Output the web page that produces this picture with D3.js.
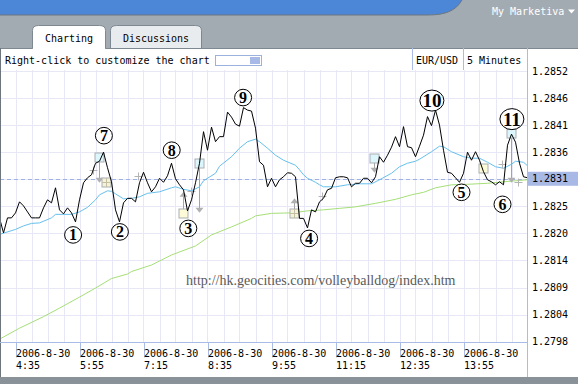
<!DOCTYPE html>
<html>
<head>
<meta charset="utf-8">
<script src="https://cdn.jsdelivr.net/npm/d3@7"></script>
<style>
html, body { margin: 0; padding: 0; background: #a3abb2; }
svg { display: block; }
text { font-family: "DejaVu Sans Mono", monospace; font-size: 10px; }
</style>
</head>
<body>
<svg id="chart" width="578" height="384"></svg>
<script>
// EUR/USD 5 minute closes, 2006-8-30, first bar 4:15
var startTime = new Date(2006, 7, 30, 4, 15);
var closes = [
  1.28229, 1.28199, 1.28229, 1.28229, 1.28239, 1.28261, 1.28253, 1.28241, 1.28229, 1.28229,
  1.28229, 1.28249, 1.28265, 1.28259, 1.28289, 1.28245, 1.28237, 1.28249, 1.28239, 1.28221,
  1.28265, 1.28299, 1.28309, 1.28315, 1.28338, 1.28342, 1.28360, 1.28329, 1.28301, 1.28245,
  1.28221, 1.28259, 1.28268, 1.28268, 1.28261, 1.28299, 1.28320, 1.28299, 1.28281, 1.28291,
  1.28308, 1.28300, 1.28313, 1.28338, 1.28307, 1.28295, 1.28285, 1.28243, 1.28265, 1.28299,
  1.28338, 1.28401, 1.28364, 1.28410, 1.28381, 1.28391, 1.28391, 1.28440, 1.28430, 1.28416,
  1.28412, 1.28449, 1.28444, 1.28442, 1.28408, 1.28341, 1.28334, 1.28291, 1.28308, 1.28291,
  1.28305, 1.28311, 1.28319, 1.28318, 1.28311, 1.28228, 1.28228, 1.28209, 1.28245, 1.28241,
  1.28261, 1.28268, 1.28285, 1.28288, 1.28309, 1.28311, 1.28311, 1.28309, 1.28291, 1.28298,
  1.28298, 1.28308, 1.28308, 1.28299, 1.28311, 1.28351, 1.28340, 1.28354, 1.28370, 1.28391,
  1.28371, 1.28411, 1.28371, 1.28369, 1.28351, 1.28372, 1.28394, 1.28431, 1.28413, 1.28444,
  1.28414, 1.28364, 1.28320, 1.28318, 1.28309, 1.28300, 1.28318, 1.28360, 1.28344, 1.28361,
  1.28344, 1.28321, 1.28305, 1.28301, 1.28295, 1.28301, 1.28295, 1.28374, 1.28396, 1.28380,
  1.28338, 1.28311, 1.28309
];

// fast moving average (blue), bar index / value
var fastIdx = [0, 4, 6, 8, 10, 13, 14, 18, 20, 22, 24, 25, 27, 28, 29, 31, 33, 35, 37, 40,
  43, 44, 46, 48, 50, 51, 54, 55, 58, 60, 62, 64, 65, 67, 69, 71, 74, 75, 76, 77,
  79, 80, 81, 84, 87, 90, 93, 95, 98, 100, 102, 104, 105, 108, 110, 111, 113, 116, 118, 120,
  122, 124, 126, 128, 129, 131, 132];
var fastVals = [1.28196, 1.28206, 1.28213, 1.28218, 1.28219, 1.28229, 1.28236, 1.28236, 1.28241, 1.28250,
  1.28265, 1.28275, 1.28283, 1.28282, 1.28277, 1.28267, 1.28268, 1.28271, 1.28278, 1.28281,
  1.28289, 1.28291, 1.28286, 1.28283, 1.28291, 1.28303, 1.28318, 1.28332, 1.28351, 1.28368,
  1.28381, 1.28386, 1.28381, 1.28368, 1.28354, 1.28344, 1.28334, 1.28325, 1.28315, 1.28308,
  1.28300, 1.28295, 1.28291, 1.28291, 1.28295, 1.28297, 1.28297, 1.28305, 1.28318, 1.28331,
  1.28338, 1.28342, 1.28346, 1.28361, 1.28372, 1.28371, 1.28361, 1.28351, 1.28348, 1.28348,
  1.28340, 1.28331, 1.28328, 1.28336, 1.28342, 1.28340, 1.28333];

// slow moving average (green)
var slowIdx = [0, 5, 11, 15, 20, 24, 28, 32, 33, 38, 43, 49, 53, 58, 63, 64, 68, 73, 77, 81,
  85, 89, 94, 99, 103, 106, 109, 113, 117, 122, 126, 129, 132];
var slowVals = [1.27987, 1.28009, 1.28032, 1.28049, 1.28071, 1.28089, 1.28108, 1.28117, 1.28122, 1.28135,
  1.28155, 1.28173, 1.28195, 1.28211, 1.28228, 1.28233, 1.28238, 1.28239, 1.28243, 1.28245,
  1.28248, 1.28251, 1.28258, 1.28266, 1.28275, 1.28280, 1.28289, 1.28295, 1.28296, 1.28298,
  1.28301, 1.28303, 1.28305];

var lastPrice = 1.28307;
var lastLabel = "1.2831";
var yTickLabels = ["1.2798", "1.2804", "1.2809", "1.2814", "1.2820", "1.2825",
  "1.2831", "1.2836", "1.2841", "1.2846", "1.2852"];
var yLow = 1.27982, yStep = 0.00054;
var xTickTimes = ["4:35", "5:55", "7:15", "8:35", "9:55", "11:15", "12:35", "13:55"];
var xTickDate = "2006-8-30";

// wave count labels: number, bar index, price
var waveNums = [1, 2, 3, 4, 5, 6, 7, 8, 9, 10, 11];
var waveIdx = [18.4, 30.1, 47.2, 77.4, 115.5, 125.75, 26.1, 43.05, 60.9, 108.1, 128.1];
var wavePrice = [1.28195, 1.28201, 1.28208, 1.28188, 1.28280, 1.28256, 1.28393, 1.28364, 1.28469, 1.28463, 1.28426];

// signal icons: bar index, box price, arrow tip price
var sellIdx = [24.75, 49.8, 93.6, 127.75];
var sellBox = [1.28350, 1.28338, 1.28349, 1.28398];
var sellTip = [1.28299, 1.28239, 1.28319, 1.28299];
var buyIdx = [45.75, 120.75];
var buyBox = [1.28239, 1.28329];
var buyTip = [1.28281, null];
var gridIdx = [26.6, 73.6];
var gridBox = [1.28300, 1.28239];
var gridTip = [null, 1.28268];
var crossIdx = [23.4, 34.6, 47.75, 80.6, 125.6, 129.6];
var crossPrice = [1.28325, 1.28312, 1.28283, 1.28272, 1.28337, 1.28300];

var site = "http://hk.geocities.com/volleyballdog/index.htm";

function barTime(i) { return new Date(startTime.getTime() + i * 5 * 60000); }

var svg = d3.select('#chart');
var W = 578, H = 384;
var plotL = 0, plotR = 527, plotT = 70, plotB = 342;

// window chrome
svg.append('rect').attr('width', W).attr('height', H).attr('fill', '#a3abb2');
svg.append('path')
  .attr('d', 'M0,0 H462 C456,10.5 446,15 428,15 H0 Z')
  .attr('fill', '#4c86d6');
svg.append('path')
  .attr('d', 'M0,15 H428 C446,15 456,10.5 462,0')
  .attr('fill', 'none').attr('stroke', '#6d7780').attr('stroke-width', 1);
svg.append('text').attr('x', 492).attr('y', 15).attr('fill', '#fff').text('My Marketiva');
svg.append('path').attr('d', 'M568,9.5 h7 l-3.5,4 z').attr('fill', '#fff');

function tab(x0, x1, fill, label) {
  svg.append('path')
    .attr('d', 'M' + x0 + ',48.5 V30.5 Q' + x0 + ',25.5 ' + (x0 + 6) + ',25.5 H' + (x1 - 6) +
      ' Q' + x1 + ',25.5 ' + x1 + ',30.5 V48.5')
    .attr('fill', fill).attr('stroke', '#7e8891');
  svg.append('text').attr('x', (x0 + x1) / 2).attr('y', 41.5).attr('text-anchor', 'middle')
    .attr('fill', '#000').text(label);
}
tab(110.5, 201.5, '#e8ecef', 'Discussions');

// panel
svg.append('rect').attr('x', 0).attr('y', 48).attr('width', W).attr('height', 329).attr('fill', '#fff');
svg.append('line').attr('x1', 0).attr('x2', W).attr('y1', 48.5).attr('y2', 48.5).attr('stroke', '#7e8891');
tab(32.5, 105.5, '#fff', 'Charting');
svg.append('rect').attr('x', 33).attr('y', 47).attr('width', 72).attr('height', 3).attr('fill', '#fff');
svg.append('rect').attr('x', 0).attr('y', 377).attr('width', W).attr('height', 7).attr('fill', '#8a9299');
svg.append('line').attr('x1', 0.5).attr('x2', 0.5).attr('y1', 48).attr('y2', 377).attr('stroke', '#6e767d');

// scales
var x = d3.scaleTime().domain([barTime(0), barTime(132)]).range([-0.5, 527.5]);
var y = d3.scaleLinear().domain([yLow, yLow + 10 * yStep]).range([341.7, 71]);
var yTicks = yTickLabels.map(function(d, i) { return yLow + i * yStep; });
var gridTimes = d3.range(0, 133, 4).map(barTime);
var xTicks = xTickTimes.map(function(t) {
  var p = t.split(':');
  return new Date(2006, 7, 30, +p[0], +p[1]);
});

svg.append('clipPath').attr('id', 'plot-clip')
  .append('rect').attr('x', plotL + 1).attr('y', plotT).attr('width', plotR - plotL - 1).attr('height', plotB - plotT);

var plot = svg.append('g').attr('clip-path', 'url(#plot-clip)');

// grid
plot.append('g').selectAll('line').data(gridTimes).enter().append('line')
  .attr('x1', d => Math.round(x(d)) + 0.5).attr('x2', d => Math.round(x(d)) + 0.5)
  .attr('y1', plotT).attr('y2', plotB)
  .attr('stroke', '#e7e7f5');
plot.append('g').selectAll('line').data(yTicks).enter().append('line')
  .attr('x1', plotL).attr('x2', plotR)
  .attr('y1', d => Math.round(y(d)) + 0.5).attr('y2', d => Math.round(y(d)) + 0.5)
  .attr('stroke', '#e7e7f5');

// watermark
plot.append('text').attr('x', 186).attr('y', 285)
  .style('font-family', '"Liberation Serif", serif').style('font-size', '14px')
  .attr('fill', '#5a5a5a').text(site);

// last price line
plot.append('line').attr('x1', plotL).attr('x2', plotR)
  .attr('y1', Math.round(y(lastPrice)) + 0.5).attr('y2', Math.round(y(lastPrice)) + 0.5)
  .attr('stroke', '#9db2e2').attr('stroke-dasharray', '4,3');

var maLine = d3.line().x(d => x(barTime(d[0]))).y(d => y(d[1]));
plot.append('path').datum(d3.zip(slowIdx, slowVals))
  .attr('d', maLine).attr('fill', 'none').attr('stroke', '#a6df78').attr('stroke-width', 1);
plot.append('path').datum(d3.zip(fastIdx, fastVals))
  .attr('d', maLine).attr('fill', 'none').attr('stroke', '#68bfec').attr('stroke-width', 1);

// signal icons
var iconStroke = '#a4a4a4';
function arrowHead(g, cx, tipY, dir) {
  g.append('path')
    .attr('d', 'M' + (cx - 4) + ',' + (tipY - 5 * dir) + ' H' + (cx + 4) + ' L' + cx + ',' + tipY + ' Z')
    .attr('fill', '#b0b0b0');
}
function box(g, cx, cy, fill, withGrid) {
  g.append('rect').attr('x', cx - 4.5).attr('y', cy - 4.5).attr('width', 9).attr('height', 9)
    .attr('fill', fill).attr('stroke', '#a9aeb2');
  if (withGrid) {
    g.append('path').attr('d', 'M' + (cx - 4.5) + ',' + cy + ' H' + (cx + 4.5) + ' M' + cx + ',' + (cy - 4.5) + ' V' + (cy + 4.5))
      .attr('stroke', '#c2bfa4');
  }
}
var icons = plot.append('g');
sellIdx.forEach(function(k, i) {
  var cx = Math.round(x(barTime(k))) + 0.5, cy = Math.round(y(sellBox[i])) + 0.5, ty = y(sellTip[i]);
  icons.append('line').attr('x1', cx).attr('x2', cx).attr('y1', cy + 4).attr('y2', ty - 4).attr('stroke', iconStroke);
  arrowHead(icons, cx, ty, 1);
  box(icons, cx, cy, '#dcf6fb', false);
});
buyIdx.forEach(function(k, i) {
  var cx = Math.round(x(barTime(k))) + 0.5, cy = Math.round(y(buyBox[i])) + 0.5;
  if (buyTip[i] !== null) {
    var ty = y(buyTip[i]);
    icons.append('line').attr('x1', cx).attr('x2', cx).attr('y1', cy - 4).attr('y2', ty + 4).attr('stroke', iconStroke);
    arrowHead(icons, cx, ty, -1);
  }
  box(icons, cx, cy, '#fdfad8', false);
});
gridIdx.forEach(function(k, i) {
  var cx = Math.round(x(barTime(k))) + 0.5, cy = Math.round(y(gridBox[i])) + 0.5;
  if (gridTip[i] !== null) {
    var ty = y(gridTip[i]);
    icons.append('line').attr('x1', cx).attr('x2', cx).attr('y1', cy - 4).attr('y2', ty + 4).attr('stroke', iconStroke);
    arrowHead(icons, cx, ty, -1);
  }
  box(icons, cx, cy, '#f6f2d8', true);
});
crossIdx.forEach(function(k, i) {
  var cx = Math.round(x(barTime(k))) + 0.5, cy = Math.round(y(crossPrice[i])) + 0.5;
  icons.append('path').attr('d', 'M' + (cx - 4) + ',' + cy + ' H' + (cx + 4) + ' M' + cx + ',' + (cy - 4) + ' V' + (cy + 4))
    .attr('stroke', '#b4b4b4');
});

// price line
var priceLine = d3.line().x((d, i) => x(barTime(i))).y(d => y(d));
plot.append('path').datum(closes)
  .attr('d', priceLine).attr('fill', 'none').attr('stroke', '#000').attr('stroke-width', 1);

// wave count labels
var waves = plot.append('g');
waveNums.forEach(function(n, i) {
  var cx = x(barTime(waveIdx[i])), cy = y(wavePrice[i]);
  var big = n >= 10;
  waves.append('ellipse').attr('cx', cx).attr('cy', cy)
    .attr('rx', big ? 12 : 8.5).attr('ry', big ? 10.5 : 8.3)
    .attr('fill', '#fff').attr('stroke', '#000').attr('stroke-width', 1);
  waves.append('text').attr('x', cx).attr('y', cy + (big ? 6.5 : 5.5))
    .attr('text-anchor', 'middle')
    .style('font-family', '"Liberation Serif", serif').style('font-weight', 'bold')
    .style('font-size', big ? '19px' : '16px')
    .attr('fill', '#000').text(n);
});

// axes
var axisColor = '#a8bce6';
svg.append('line').attr('x1', plotR + 0.5).attr('x2', plotR + 0.5).attr('y1', 48).attr('y2', 377).attr('stroke', axisColor);
svg.append('line').attr('x1', 0).attr('x2', plotR).attr('y1', plotB + 0.5).attr('y2', plotB + 0.5).attr('stroke', axisColor);

var yAxis = d3.axisRight(y).tickValues(yTicks).tickSize(0).tickPadding(5)
  .tickFormat((d, i) => yTickLabels[i]);
var yg = svg.append('g').attr('transform', 'translate(' + plotR + ',0)').call(yAxis);
yg.select('.domain').remove();
yg.selectAll('text').attr('fill', '#000').style('font-family', '"DejaVu Sans Mono", monospace').style('font-size', '10px');

// last price box on the axis
svg.append('rect').attr('x', plotR + 1).attr('y', y(lastPrice) - 7).attr('width', W - plotR - 1).attr('height', 14)
  .attr('fill', '#a8b9e5');
svg.append('text').attr('x', plotR + 5).attr('y', y(lastPrice) + 3.5).attr('fill', '#000').text(lastLabel);

var xAxis = d3.axisBottom(x).tickValues(xTicks).tickSize(15).tickFormat('');
var xg = svg.append('g').attr('transform', 'translate(0,' + (plotB + 0.5) + ')').call(xAxis);
xg.select('.domain').remove();
xg.selectAll('line').attr('stroke', axisColor).attr('transform', 'translate(0.5,0)');
xg.selectAll('.tick').each(function(d, i) {
  var t = d3.select(this);
  t.append('text').attr('x', 0).attr('y', 14).attr('text-anchor', 'start').attr('fill', '#000').text(xTickDate);
  t.append('text').attr('x', 0).attr('y', 26).attr('text-anchor', 'start').attr('fill', '#000').text(xTickTimes[i]);
});

// toolbar
svg.append('text').attr('x', 5).attr('y', 64).attr('fill', '#000').text('Right-click to customize the chart');
svg.append('rect').attr('x', 215.5).attr('y', 55.5).attr('width', 46).attr('height', 10)
  .attr('fill', '#fff').attr('stroke', '#9cb1de');
svg.append('rect').attr('x', 250).attr('y', 57).attr('width', 10).attr('height', 7).attr('fill', '#a7b9e6');
[412.5, 463.5].forEach(function(sx) {
  svg.append('line').attr('x1', sx).attr('x2', sx).attr('y1', 48).attr('y2', 70).attr('stroke', axisColor);
});
svg.append('text').attr('x', 416).attr('y', 64).attr('fill', '#000').text('EUR/USD');
svg.append('text').attr('x', 467).attr('y', 64).attr('fill', '#000').text('5 Minutes');
</script>
</body>
</html>
